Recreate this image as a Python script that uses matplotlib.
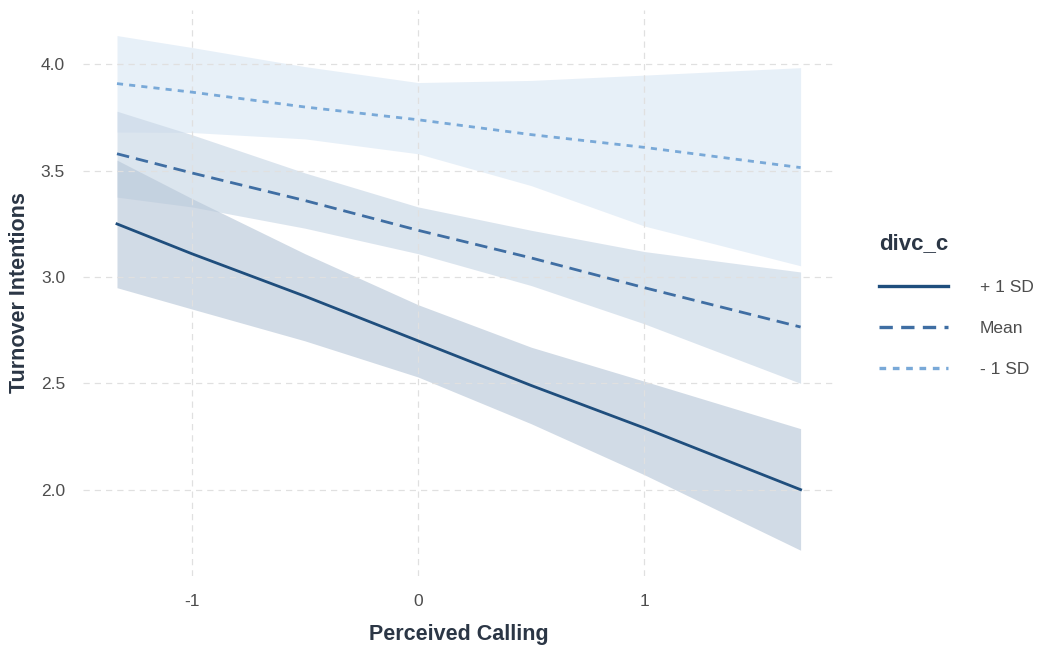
import matplotlib
matplotlib.use("Agg")
import matplotlib.pyplot as plt
from matplotlib.lines import Line2D

plt.rcParams["font.family"] = ["Liberation Sans", "DejaVu Sans"]

# значения
x_pts = [-1.33, -1.0, -0.5, 0.0, 0.5, 1.0, 1.69]

hi_fit = [3.25, 3.11, 2.91, 2.70, 2.49, 2.29, 2.00]
hi_low = [2.95, 2.85, 2.70, 2.53, 2.31, 2.07, 1.715]
hi_up = [3.55, 3.37, 3.11, 2.87, 2.67, 2.51, 2.287]

mean_fit = [3.58, 3.49, 3.36, 3.22, 3.09, 2.95, 2.765]
mean_low = [3.376, 3.33, 3.23, 3.11, 2.96, 2.78, 2.50]
mean_up = [3.78, 3.67, 3.49, 3.33, 3.22, 3.12, 3.024]

lo_fit = [3.91, 3.87, 3.80, 3.74, 3.67, 3.61, 3.515]
lo_low = [3.682, 3.68, 3.65, 3.58, 3.43, 3.24, 3.053]
lo_up = [4.136, 4.08, 3.99, 3.915, 3.925, 3.95, 3.985]

labels = ["+ 1 SD", "Mean", "- 1 SD"]
x_ticks = [-1, 0, 1]
y_ticks = [2.0, 2.5, 3.0, 3.5, 4.0]

C_HI, C_MEAN, C_LO = "#1f4e7d", "#3f6ea3", "#79a9d8"
TXT = "#4d4d4d"
TITLE = "#2b3645"

fig = plt.figure(figsize=(10.38, 6.56), dpi=100)
ax = fig.add_axes([0.08, 0.122, 0.724, 0.863])

series = [
    (lo_fit, lo_low, lo_up, C_LO, (0, (2.2, 2.2)), "#dbe8f5"),
    (mean_fit, mean_low, mean_up, C_MEAN, (0, (4.5, 2.5)), "#c9d7e6"),
    (hi_fit, hi_low, hi_up, C_HI, "-", "#b9c8d9"),
]
for fit, low, up, col, ls, fill in series:
    ax.fill_between(x_pts, low, up, color=fill, alpha=0.65, lw=0, zorder=1)
for fit, low, up, col, ls, fill in series:
    ax.plot(x_pts, fit, color=col, ls=ls, lw=2.0, zorder=3)

ax.set_xlim(-1.48, 1.84)
ax.set_ylim(1.594, 4.257)
ax.set_xticks(x_ticks)
ax.set_xticklabels([str(t) for t in x_ticks])
ax.set_yticks(y_ticks)
ax.set_yticklabels([f"{t:.1f}" for t in y_ticks])
ax.tick_params(length=0, labelsize=12.5, labelcolor=TXT, pad=13)
ax.grid(True, color="#e0e0e0", ls=(0, (5, 4)), lw=0.9, zorder=0)
for s in ax.spines.values():
    s.set_visible(False)

ax.set_xlabel("Perceived Calling", fontsize=15.5, fontweight="bold", color=TITLE, labelpad=11)
ax.set_ylabel("Turnover Intentions", fontsize=15.5, fontweight="bold", color=TITLE, labelpad=8)

handles = [
    Line2D([], [], color=C_HI, lw=2.4, ls="-"),
    Line2D([], [], color=C_MEAN, lw=2.4, ls=(0, (4, 2.5))),
    Line2D([], [], color=C_LO, lw=2.4, ls=(0, (2, 2))),
]
leg = fig.legend(handles, labels, title="divc_c", loc="center left",
                 bbox_to_anchor=(0.84, 0.535), frameon=False,
                 fontsize=12.5, handlelength=4.0, handletextpad=1.8,
                 labelspacing=1.5, borderaxespad=0)
leg.get_title().set_fontweight("bold")
leg.get_title().set_fontsize(16)
leg.get_title().set_color(TITLE)
leg._legend_box.align = "left"
for t in leg.get_texts():
    t.set_color(TXT)

fig.savefig("out.png", dpi=100)
